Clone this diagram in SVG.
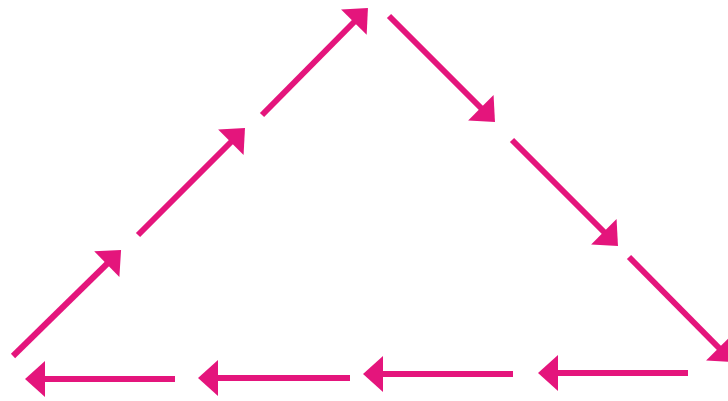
<svg xmlns="http://www.w3.org/2000/svg" width="728" height="401" viewBox="0 0 728 401">
  <style>
    .arrow { stroke: #e4157c; stroke-width: 6; fill: none; stroke-linecap: butt; marker-end: url(#head); }
  </style>
  <defs>
    <marker id="head" markerUnits="userSpaceOnUse" viewBox="0 -19 21 38" refX="8" refY="0" markerWidth="21" markerHeight="38" orient="auto" overflow="visible">
      <path d="M0,-18 L20,0 L0,18 Z" fill="#e4157c"/>
    </marker>
  </defs>
  <rect width="728" height="401" fill="#ffffff"/>
  <g id="connectors">
    <line class="arrow" x1="13" y1="356" x2="112.5" y2="258.5"/>
    <line class="arrow" x1="138" y1="235" x2="236.5" y2="136.5"/>
    <line class="arrow" x1="262" y1="115" x2="359.5" y2="16.5"/>
    <line class="arrow" x1="389" y1="16" x2="486.5" y2="113.5"/>
    <line class="arrow" x1="512" y1="140" x2="609.5" y2="237.5"/>
    <line class="arrow" x1="629" y1="257" x2="724.5" y2="353.5"/>
    <line class="arrow" x1="688" y1="373" x2="550" y2="373"/>
    <line class="arrow" x1="513" y1="374" x2="375" y2="374"/>
    <line class="arrow" x1="350" y1="378" x2="210" y2="378"/>
    <line class="arrow" x1="175" y1="379" x2="37" y2="379"/>
  </g>
</svg>
